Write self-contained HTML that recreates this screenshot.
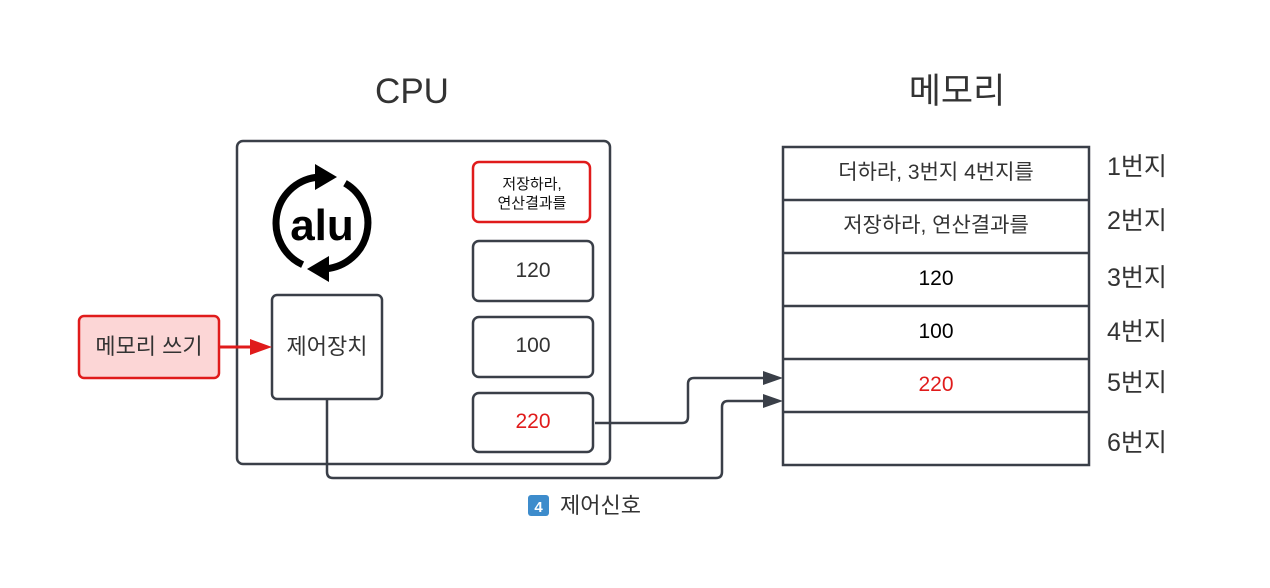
<!DOCTYPE html>
<html><head><meta charset="utf-8"><style>
html,body{margin:0;padding:0;background:#fff;}
svg{display:block;}
text{font-family:"Liberation Sans","Noto Sans CJK KR",sans-serif;}
</style></head><body>
<svg width="1270" height="588" viewBox="0 0 1270 588" xmlns="http://www.w3.org/2000/svg">
<rect width="1270" height="588" fill="#fff"/>
<text x="412" y="103" font-size="35" fill="#333" text-anchor="middle">CPU</text>
<text x="957" y="103" font-size="35" fill="#333" text-anchor="middle">메모리</text>

<rect x="237" y="141" width="373" height="323" rx="6" fill="#fff" stroke="#3a3f48" stroke-width="2.5"/>

<!-- ALU icon -->
<g fill="none" stroke="#000" stroke-width="7">
<path d="M302.6,264.7 A46,46 0 0 1 316,177.4"/>
<path d="M345,183.2 A46,46 0 0 1 326,268.8"/>
</g>
<polygon points="315,164 337,177 315,190" fill="#000"/>
<polygon points="329,256 307,269 329,282" fill="#000"/>
<text x="322" y="240" font-size="44" font-weight="bold" fill="#000" text-anchor="middle">alu</text>

<rect x="272" y="295" width="110" height="104" rx="5" fill="#fff" stroke="#3a3f48" stroke-width="2.5"/>
<text x="327" y="354" font-size="22" fill="#333" text-anchor="middle">제어장치</text>

<rect x="473" y="162" width="117" height="60" rx="6" fill="#fff" stroke="#e01b1b" stroke-width="2.5"/>
<text x="532" y="189" font-size="15" fill="#111" text-anchor="middle">저장하라,</text>
<text x="532" y="208" font-size="15" fill="#111" text-anchor="middle">연산결과를</text>

<rect x="473" y="241" width="120" height="60" rx="6" fill="#fff" stroke="#3a3f48" stroke-width="2.5"/>
<text x="533" y="277" font-size="21" fill="#333" text-anchor="middle">120</text>
<rect x="473" y="317" width="120" height="60" rx="6" fill="#fff" stroke="#3a3f48" stroke-width="2.5"/>
<text x="533" y="352" font-size="21" fill="#333" text-anchor="middle">100</text>
<rect x="473" y="393" width="120" height="59" rx="6" fill="#fff" stroke="#3a3f48" stroke-width="2.5"/>
<text x="533" y="428" font-size="21" fill="#e01b1b" text-anchor="middle">220</text>

<rect x="79" y="316" width="140" height="62" rx="5" fill="#fcd6d6" stroke="#e01b1b" stroke-width="2.5"/>
<text x="149" y="354" font-size="22" fill="#333" text-anchor="middle">메모리 쓰기</text>
<line x1="219" y1="347" x2="252" y2="347" stroke="#e01b1b" stroke-width="3"/>
<polygon points="250,339 272,347 250,355" fill="#e01b1b"/>

<!-- memory -->
<g stroke="#3a3f48" stroke-width="2.5" fill="#fff">
<rect x="783" y="147" width="306" height="318"/>
<line x1="783" y1="200" x2="1089" y2="200"/>
<line x1="783" y1="253" x2="1089" y2="253"/>
<line x1="783" y1="306" x2="1089" y2="306"/>
<line x1="783" y1="359" x2="1089" y2="359"/>
<line x1="783" y1="412" x2="1089" y2="412"/>
</g>
<text x="936" y="179" font-size="21" fill="#333" text-anchor="middle">더하라, 3번지 4번지를</text>
<text x="936" y="232" font-size="21" fill="#333" text-anchor="middle">저장하라, 연산결과를</text>
<text x="936" y="285" font-size="21" fill="#000" text-anchor="middle">120</text>
<text x="936" y="338" font-size="21" fill="#000" text-anchor="middle">100</text>
<text x="936" y="391" font-size="21" fill="#e01b1b" text-anchor="middle">220</text>
<g font-size="25" fill="#333">
<text x="1107" y="175">1번지</text>
<text x="1107" y="229">2번지</text>
<text x="1107" y="286">3번지</text>
<text x="1107" y="340">4번지</text>
<text x="1107" y="391">5번지</text>
<text x="1107" y="451">6번지</text>
</g>

<!-- connectors -->
<g fill="none" stroke="#3a3f48" stroke-width="2.5">
<path d="M595,423 H682 Q688,423 688,417 V384 Q688,378 694,378 H765"/>
<path d="M327,399 V472 Q327,478 333,478 H716 Q722,478 722,472 V407 Q722,401 728,401 H765"/>
</g>
<polygon points="763,371 783,378 763,385" fill="#3a3f48"/>
<polygon points="763,394 783,401 763,408" fill="#3a3f48"/>

<rect x="528" y="495" width="21" height="21" rx="3" fill="#3d8ccc"/>
<text x="538.5" y="512" font-size="15" font-weight="bold" fill="#fff" text-anchor="middle">4</text>
<text x="560" y="513" font-size="22" fill="#333">제어신호</text>
</svg>
</body></html>
